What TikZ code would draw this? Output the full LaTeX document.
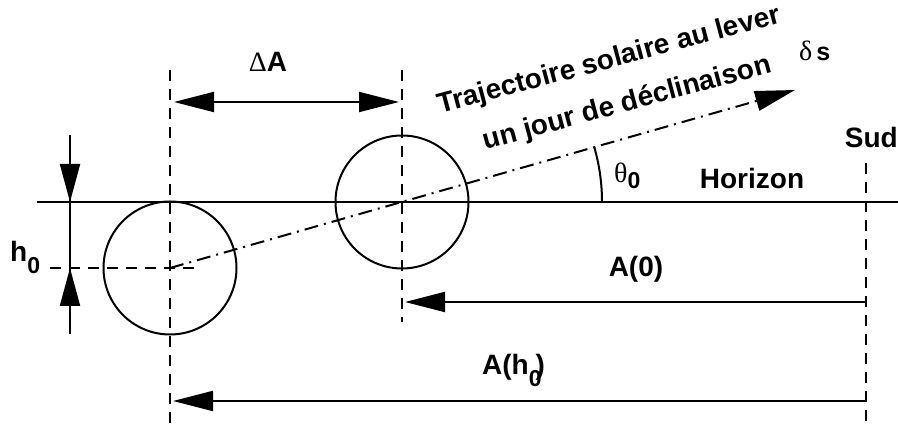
\documentclass[tikz,border=0pt]{standalone}
\usepackage{fontspec}
\setmainfont{Liberation Sans}
\newfontfamily\grk{Liberation Serif}
\usetikzlibrary{arrows.meta}
\begin{document}
\begin{tikzpicture}[x=1pt,y=1pt,
  lbl/.style={font=\fontsize{28}{31}\selectfont\bfseries, inner sep=0pt},
  solidline/.style={line width=2pt},
  dashline/.style={line width=2pt, dash pattern=on 11pt off 8pt},
  dashdot/.style={line width=2pt, dash pattern=on 14pt off 6pt on 2pt off 6pt},
  bigtip/.style={-{Triangle[length=40pt,width=20pt]}},
  sun/.style={circle, draw, line width=2pt, minimum size=133pt, inner sep=0pt},
]
\useasboundingbox (0,0) rectangle (898,427);
% suns
\node[sun] (s1) at (170,159) {};
\node[sun] (s2) at (402,225) {};
% horizon
\coordinate (hzL) at (37,225);
\coordinate (hzR) at (898,225);
\draw[solidline] (hzL) -- (hzR);
% vertical dashed lines
\coordinate (v1t) at (170,357); \coordinate (v1b) at (170,0);
\coordinate (v2t) at (402,357); \coordinate (v2b) at (402,105);
\coordinate (vst) at (866,264); \coordinate (vsb) at (866,0);
\draw[dashline] (v1t) -- (v1b);
\draw[dashline] (v2t) -- (v2b);
\draw[dashline] (vst) -- (vsb);
% Delta A
\coordinate (da1) at (174,325);
\coordinate (da2) at (399,325);
\draw[solidline, {Triangle[length=40pt,width=20pt]}-{Triangle[length=40pt,width=20pt]}] (da1) -- (da2);
\node[lbl, anchor=base] (lDA) at (268,355) {{\grk\mdseries Δ}A};
% h0
\coordinate (hb1) at (70,292);
\coordinate (hb2) at (70,93);
\coordinate (ht1) at (70,225);
\coordinate (ht2) at (70,159);
\draw[solidline] (hb1) -- (hb2);
\draw[solidline, -{Triangle[length=38pt,width=20pt]}] (hb1) -- (ht1);
\draw[solidline, -{Triangle[length=38pt,width=20pt]}] (hb2) -- (ht2);
\coordinate (hd1) at (50,159);
\coordinate (hd2) at (197,159);
\draw[dashline] (hd1) -- (hd2);
\node[lbl, anchor=base west] (lh) at (10,165) {h\raisebox{-12pt}{\fontsize{23}{23}\selectfont 0}};
% trajectory
\coordinate (trEnd) at (795,337);
\draw[dashdot, bigtip] (s1.center) -- (trEnd);
\coordinate (arcStart) at (602,225);
\draw[solidline] (arcStart) arc[start angle=0, end angle=16, radius=200pt];
\node[lbl, anchor=base west] (lth) at (614,244) {{\grk\mdseries θ}\raisebox{-6pt}{\fontsize{23}{23}\selectfont 0}};
\node[lbl, anchor=base, rotate=15] (lt1) at (611,359) {Trajectoire solaire au lever};
\node[lbl, anchor=base, rotate=15] (lt2) at (629,316) {un jour de déclinaison};
\node[anchor=base west, inner sep=0pt] (lds) at (799,366) {{\grk\fontsize{28}{30}\selectfont δ}\hspace{4pt}{\fontsize{25}{25}\selectfont\bfseries s}};
% labels
\node[lbl, anchor=base] (lhor) at (752,238) {Horizon};
\node[lbl, anchor=base east] (lsud) at (898,279) {Sud};
% azimuth arrows
\coordinate (a0s) at (866,125);
\coordinate (a0e) at (405,125);
\draw[solidline, bigtip] (a0s) -- (a0e);
\node[lbl, anchor=base] (lA0) at (636,150) {A(0)};
\coordinate (ahs) at (866,26);
\coordinate (ahe) at (173,26);
\draw[solidline, bigtip] (ahs) -- (ahe);
\node[lbl, anchor=base west] (lAh) at (482,52) {A(h\raisebox{-12pt}{\fontsize{23}{23}\selectfont 0}\kern-6pt)};
\end{tikzpicture}
\end{document}
